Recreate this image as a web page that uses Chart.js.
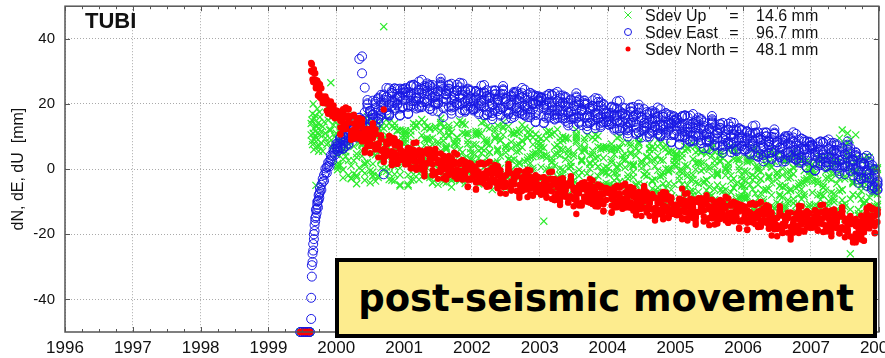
<!DOCTYPE html>
<html>
<head>
<meta charset="utf-8">
<script src="https://cdn.jsdelivr.net/npm/chart.js@4/dist/chart.umd.min.js"></script>
<style>
  html, body { margin: 0; padding: 0; background: #fff; }
  #wrap { position: relative; width: 885px; height: 358px; overflow: hidden; }
  #plot { position: absolute; left: 0; top: 0; }
  #banner {
    position: absolute; left: 335px; top: 258px; width: 542px; height: 80px;
    box-sizing: border-box; border: 4px solid #000; background: #fdec8e;
    display: flex; align-items: center; justify-content: center;
    font: bold 37px "DejaVu Sans", Verdana, sans-serif; color: #000; white-space: nowrap;
  }
</style>
</head>
<body>
<div id="wrap">
  <canvas id="plot" width="885" height="358"></canvas>
  <div id="banner">post-seismic movement</div>
</div>
<script>
// Station TUBI: coordinate offsets (mm) around the 1999 earthquake.
const station = 'TUBI';
const axisTitle = 'dN, dE, dU  [mm]';
const yearTicks = [1996, 1997, 1998, 1999, 2000, 2001, 2002, 2003, 2004, 2005, 2006, 2007, 2008];
const yTickValues = [-40, -20, 0, 20, 40];
const seriesNames = ['Sdev Up', 'Sdev East', 'Sdev North'];
const sdevMm = [14.6, 96.7, 48.1];

// Epochs in decimal years. Solutions A and B cover every epoch,
// C to F cover the epochs from 2000.02 on.
const epochs = [
  1999.47, 1999.50, 1999.53, 1999.56, 1999.59, 1999.61,
  1999.63, 1999.64, 1999.65, 1999.66, 1999.67, 1999.68, 1999.69, 1999.70, 1999.71, 1999.72, 1999.73, 1999.74, 1999.75, 1999.76, 1999.78, 1999.80, 1999.82, 1999.84, 1999.86, 1999.88, 1999.90, 1999.92, 1999.94, 1999.96, 1999.98, 2000.00,
  2000.02, 2000.06, 2000.10, 2000.14, 2000.18, 2000.22, 2000.26, 2000.30, 2000.34, 2000.38, 2000.42, 2000.46, 2000.50, 2000.54, 2000.58, 2000.62, 2000.66, 2000.70, 2000.74, 2000.78, 2000.82, 2000.86, 2000.90, 2000.94, 2000.98,
  2001.02, 2001.06, 2001.10, 2001.14, 2001.18, 2001.22, 2001.26, 2001.30, 2001.34, 2001.38, 2001.42, 2001.46, 2001.50, 2001.54, 2001.58, 2001.62, 2001.66, 2001.70, 2001.74, 2001.78, 2001.82, 2001.86, 2001.90, 2001.94, 2001.98,
  2002.02, 2002.06, 2002.10, 2002.14, 2002.18, 2002.22, 2002.26, 2002.30, 2002.34, 2002.38, 2002.42, 2002.46, 2002.50, 2002.54, 2002.58, 2002.62, 2002.66, 2002.70, 2002.74, 2002.78, 2002.82, 2002.86, 2002.90, 2002.94, 2002.98,
  2003.02, 2003.06, 2003.10, 2003.14, 2003.18, 2003.22, 2003.26, 2003.30, 2003.34, 2003.38, 2003.42, 2003.46, 2003.50, 2003.54, 2003.58, 2003.62, 2003.66, 2003.70, 2003.74, 2003.78, 2003.82, 2003.86, 2003.90, 2003.94, 2003.98,
  2004.02, 2004.06, 2004.10, 2004.14, 2004.18, 2004.22, 2004.26, 2004.30, 2004.34, 2004.38, 2004.42, 2004.46, 2004.50, 2004.54, 2004.58, 2004.62, 2004.66, 2004.70, 2004.74, 2004.78, 2004.82, 2004.86, 2004.90, 2004.94, 2004.98,
  2005.02, 2005.06, 2005.10, 2005.14, 2005.18, 2005.22, 2005.26, 2005.30, 2005.34, 2005.38, 2005.42, 2005.46, 2005.50, 2005.54, 2005.58, 2005.62, 2005.66, 2005.70, 2005.74, 2005.78, 2005.82, 2005.86, 2005.90, 2005.94, 2005.98,
  2006.02, 2006.06, 2006.10, 2006.14, 2006.18, 2006.22, 2006.26, 2006.30, 2006.34, 2006.38, 2006.42, 2006.46, 2006.50, 2006.54, 2006.58, 2006.62, 2006.66, 2006.70, 2006.74, 2006.78, 2006.82, 2006.86, 2006.90, 2006.94, 2006.98,
  2007.02, 2007.06, 2007.10, 2007.14, 2007.18, 2007.22, 2007.26, 2007.30, 2007.34, 2007.38, 2007.42, 2007.46, 2007.50, 2007.54, 2007.58, 2007.62, 2007.66, 2007.70, 2007.74, 2007.78, 2007.82, 2007.86, 2007.90, 2007.94, 2007.98
];
const denseStart = epochs.indexOf(2000.02);

// North component (mm)
const northA = [
  -50, -50, -50, -50, -50, -50,
  32.6, 29.9, 27.5, 29.9, 30.7, 26.6, 27.3, 24.8, 27.2, 26.0, 22.6, 26.4, 23.3, 22.0, 24.8, 22.3, 20.3, 22.3, 17.9, 20.1, 18.8, 20.8, 16.3, 18.5, 16.6, 17.6,
  17.5, 14.8, 12.2, 16.5, 18.5, 10.4, 12.2, 9.5, 13.7, 12.7, 5.9, 12.0, 8.3, 7.3, 12.2, 7.4, 5.6, 18.3, 4.1, 7.9, 4.8, 8.3, 2.8, 6.4, 4.3,
  2.4, 6.2, 4.0, 0.4, 5.2, 2.3, 5.6, 0.6, 1.8, 4.8, 1.5, -1.4, 2.7, 4.8, -0.1, -2.0, 1.0, -0.2, 2.2, -3.0, 1.6, -0.5, -2.1, 2.0, -2.9,
  -1.1, -3.8, 1.7, -2.5, -4.5, -0.6, -1.4, -3.8, 0.1, -5.8, -1.8, -3.0, -5.1, -0.2, -3.8, -2.5, -6.7, -0.5, -4.3, -5.7, -3.7, -7.8, -2.8, -4.9, -2.5,
  -7.9, -4.6, -3.8, -5.9, -3.0, -9.5, -5.0, -3.1, -8.3, -6.3, -4.3, -8.3, -6.5, -13.8, -5.2, -4.3, -8.6, -10.0, -7.4, -6.2, -11.4, -7.7, -5.7, -10.0, -7.2,
  -6.5, -9.2, -11.8, -7.5, -5.5, -10.8, -9.0, -11.7, -7.5, -8.5, -13.4, -7.3, -11.0, -12.0, -7.1, -10.6, -12.4, -8.7, -13.9, -10.1, -11.8, -8.3, -13.8, -10.2, -12.3,
  -13.2, -9.4, -6.0, -15.2, -10.4, -12.6, -9.3, -14.3, -13.1, -10.1, -12.7, -15.6, -11.5, -9.4, -14.3, -15.5, -12.5, -13.7, -11.3, -16.5, -11.2, -13.3, -14.9, -10.8, -15.7,
  -13.5, -16.2, -10.7, -14.9, -16.9, -13.0, -13.8, -16.2, -12.3, -18.2, -14.8, -16.0, -18.1, -13.2, -16.8, -15.3, -19.5, -13.3, -17.1, -18.5, -14.7, -18.8, -13.8, -15.9, -13.5,
  -18.0, -14.7, -13.9, -16.0, -13.1, -19.1, -14.6, -12.7, -17.9, -15.9, -13.8, -17.8, -16.0, -19.3, -14.7, -15.6, -22.5, -21.3, -18.7, -17.5, -18.1, -14.4, -12.4, -16.7, -13.9
];
const northB = [
  -50, -50, -50, -50, -50, -50,
  30.2, 32.2, 30.0, 26.7, 29.5, 27.6, 29.4, 25.2, 25.4, 27.1, 25.1, 22.5, 24.9, 26.0, 21.6, 20.3, 21.8, 20.2, 21.4, 17.0, 20.6, 18.6, 17.0, 19.5, 15.6, 18.0,
  17.6, 15.2, 17.3, 12.3, 16.4, 10.3, 11.7, 15.5, 9.3, 13.5, 8.7, 12.3, 7.4, 9.5, 10.7, 3.6, 9.5, 5.6, 8.0, 8.8, 2.1, 4.1, 8.3, 2.8, 5.5,
  4.7, 1.9, 6.2, 4.2, 0.5, 4.1, 2.9, 0.3, 1.7, 6.0, 3.2, -1.4, 1.9, 0.1, 4.1, 0.2, -1.8, 3.4, 1.5, -3.0, 1.6, -1.3, 0.8, 0.0, -3.3,
  -2.3, -0.2, -3.8, 1.7, -1.8, -1.5, -5.3, -0.1, -3.8, -2.0, -0.3, -5.2, -4.2, -0.5, -6.6, -3.3, -2.3, -6.5, -3.8, -5.6, -1.6, -3.6, -7.9, -5.3, -2.6,
  -7.5, -2.6, -6.7, -5.1, -3.0, -9.5, -4.3, -6.7, -5.5, -8.5, -8.5, -3.6, -5.7, -9.8, -6.9, -5.5, -8.5, -9.7, -4.7, -8.0, -6.7, -11.5, -7.9, -5.7, -9.5,
  -6.4, -8.8, -6.7, -11.7, -7.6, -10.9, -9.5, -5.7, -11.9, -7.7, -10.6, -7.0, -11.9, -9.8, -8.6, -14.4, -8.5, -12.4, -10.0, -9.2, -14.5, -12.5, -8.3, -13.8, -11.1,
  -10.9, -13.7, -9.4, -11.4, -15.1, -10.8, -12.0, -14.6, -13.2, -8.9, -11.0, -15.6, -12.3, -14.1, -10.1, -13.3, -15.3, -10.1, -12.0, -16.5, -11.2, -14.1, -12.0, -12.8, -16.1,
  -14.7, -12.6, -16.2, -10.7, -14.2, -13.9, -17.7, -12.5, -16.2, -14.4, -13.3, -18.2, -17.2, -13.5, -19.6, -16.1, -15.1, -19.3, -16.6, -18.4, -12.6, -14.6, -18.9, -16.3, -13.6,
  -17.6, -12.7, -16.8, -15.2, -13.1, -19.1, -13.9, -16.3, -15.1, -18.1, -18.0, -13.1, -15.2, -19.3, -16.4, -16.8, -19.8, -21.0, -16.0, -19.3, -13.4, -18.2, -14.6, -12.4, -16.2
];
const northC = [
  16.8, 12.8, 15.6, 18.6, 14.2, 9.0, 14.0, 12.8, 10.3, 14.8, 8.9, 7.0, 10.6, 11.8, 6.0, 7.6, 9.1, 6.1, 4.3, 10.2, 3.6, 5.1, 7.2, 3.0, 4.4,
  1.6, 4.7, 0.2, 5.9, 4.1, 4.3, 1.3, -0.3, 5.7, 1.9, 3.3, 4.8, -0.8, 1.2, 2.3, -2.3, 1.8, 3.1, -1.3, -0.1, 2.2, -3.2, -1.8, -0.2, 1.7,
  -0.1, -4.1, -1.3, 1.7, -2.7, -5.4, -0.4, -1.6, -4.1, 0.4, -3.6, -5.5, -1.9, -0.7, -6.5, -3.4, -1.9, -4.9, -6.7, -0.8, -6.2, -4.7, -2.6, -6.8, -5.4,
  -7.4, -4.3, -8.8, -3.1, -4.9, -4.5, -7.5, -9.1, -3.1, -6.9, -5.1, -3.6, -9.2, -7.2, -6.1, -10.3, -6.2, -4.9, -9.3, -8.1, -5.3, -10.7, -9.3, -7.7, -5.8,
  -7.2, -11.2, -8.4, -5.4, -9.8, -12.2, -7.2, -8.4, -10.9, -6.4, -10.4, -12.3, -8.7, -7.5, -13.3, -10.4, -8.9, -11.9, -13.7, -7.8, -13.0, -11.5, -9.4, -13.6, -12.2,
  -14.0, -10.9, -15.4, -9.7, -11.5, -10.6, -13.6, -15.2, -9.2, -13.0, -10.9, -9.4, -15.0, -13.0, -11.9, -15.8, -11.7, -10.4, -14.8, -13.6, -10.6, -16.0, -14.6, -13.0, -11.1,
  -12.5, -16.5, -13.7, -10.7, -15.1, -17.8, -12.8, -14.0, -16.5, -12.0, -16.6, -18.5, -14.9, -13.7, -19.5, -16.2, -14.7, -17.7, -19.5, -13.6, -17.2, -15.7, -13.6, -17.8, -16.4,
  -17.5, -14.4, -18.9, -13.2, -15.0, -14.1, -17.1, -18.7, -12.7, -16.5, -14.6, -13.1, -18.7, -16.7, -15.6, -21.6, -17.5, -16.2, -20.6, -19.4, -12.0, -17.4, -16.0, -14.4, -12.5
];
const northD = [
  17.8, 15.9, 14.3, 12.9, 18.3, 11.6, 10.4, 14.8, 13.5, 9.4, 10.2, 9.1, 7.1, 12.7, 11.2, 6.3, 10.1, 4.1, 5.7, 8.7, 5.5, 7.3, 1.6, 6.1, 3.0,
  3.0, 1.6, 5.8, 3.7, 2.2, 5.8, -0.1, 1.7, 4.7, 3.2, -1.9, 3.9, 2.7, -0.9, 1.0, 3.1, -1.4, 1.1, 2.3, -2.7, -1.9, 2.5, -0.5, -3.3, 0.7,
  0.9, -1.0, -2.6, -4.0, 1.4, -2.8, -4.0, 0.4, -0.9, -5.0, -2.3, -3.4, -5.4, 0.2, -1.3, -4.7, -0.9, -6.9, -5.3, -2.3, -4.3, -2.5, -8.2, -3.7, -6.8,
  -6.0, -7.4, -3.2, -5.3, -6.8, -3.0, -8.9, -7.1, -4.1, -5.6, -10.3, -4.5, -5.7, -9.3, -7.4, -4.9, -9.4, -6.9, -5.7, -10.7, -9.4, -5.0, -8.0, -10.8, -6.8,
  -6.2, -8.1, -9.7, -11.1, -5.7, -9.6, -10.8, -6.4, -7.7, -11.8, -9.1, -10.2, -12.2, -6.6, -8.1, -11.7, -7.9, -13.9, -12.3, -9.3, -11.1, -9.3, -15.0, -10.5, -13.6,
  -12.6, -14.0, -9.8, -11.9, -13.4, -9.1, -15.0, -13.2, -10.2, -11.7, -16.1, -10.3, -11.5, -15.1, -13.2, -10.4, -14.9, -12.4, -11.2, -16.2, -14.7, -10.3, -13.3, -16.1, -12.1,
  -11.5, -13.4, -15.0, -16.4, -11.0, -15.2, -16.4, -12.0, -13.3, -17.4, -15.3, -16.4, -18.4, -12.8, -14.3, -17.5, -13.7, -19.7, -18.1, -15.1, -15.3, -13.5, -19.2, -14.7, -17.8,
  -16.1, -17.5, -13.3, -15.4, -16.9, -12.6, -18.5, -16.7, -13.7, -15.2, -19.8, -14.0, -15.2, -18.8, -16.9, -16.2, -20.7, -18.2, -17.0, -22.0, -16.1, -11.7, -14.7, -17.5, -13.5
];
const northE = [
  16.7, 10.6, 18.4, 13.4, 15.6, 16.2, 9.4, 11.2, 15.7, 8.5, 11.4, 8.9, 4.9, 14.1, 7.6, 7.6, 10.4, 3.1, 8.5, 4.7, 9.6, 3.8, 1.9, 7.7, 5.1,
  1.4, 6.5, 3.0, 8.0, -0.2, 4.2, 3.1, -2.2, 4.9, 3.5, -1.7, 5.4, 2.6, -0.4, -2.8, 3.6, -0.7, 2.2, 5.0, -2.6, -1.0, 2.8, 0.0, -5.3, 1.6,
  -0.2, -6.3, 1.5, -3.5, -1.3, 1.8, -5.0, -3.2, 1.3, -5.9, -1.1, -3.6, -7.6, 1.6, -4.9, -3.4, -0.6, -7.9, -2.5, -6.3, -0.2, -6.0, -7.9, -2.1, -4.7,
  -7.6, -2.5, -6.0, -1.0, -9.2, -4.6, -5.7, -11.0, -3.9, -5.3, -10.1, -3.0, -5.8, -8.8, -11.2, -4.4, -8.7, -5.8, -3.0, -10.6, -8.5, -4.7, -7.5, -12.8, -5.9,
  -7.3, -13.4, -5.6, -10.6, -8.4, -5.0, -11.8, -10.0, -5.5, -12.7, -7.9, -10.4, -14.4, -5.2, -11.7, -10.4, -7.6, -14.9, -9.5, -13.3, -7.0, -12.8, -14.7, -8.9, -11.5,
  -14.2, -9.1, -12.6, -7.6, -15.8, -10.7, -11.8, -17.1, -10.0, -11.4, -15.9, -8.8, -11.6, -14.6, -17.0, -9.9, -14.2, -11.3, -8.5, -16.1, -13.8, -10.0, -12.8, -18.1, -11.2,
  -12.6, -18.7, -10.9, -15.9, -13.7, -10.6, -17.4, -15.6, -11.1, -18.3, -14.1, -16.6, -20.6, -11.4, -17.9, -16.2, -13.4, -20.7, -15.3, -19.1, -11.2, -17.0, -18.9, -13.1, -15.7,
  -17.7, -12.6, -16.1, -11.1, -19.3, -14.2, -15.3, -20.6, -13.5, -14.9, -19.6, -12.5, -15.3, -18.3, -20.7, -15.7, -20.0, -17.1, -14.3, -21.9, -15.2, -11.4, -14.2, -19.5, -12.6
];
const northF = [
  17.7, 10.8, 16.1, 18.9, 15.1, 9.1, 16.7, 13.9, 11.0, 15.3, 5.1, 7.5, 10.5, 13.3, 6.2, 7.9, 9.3, 2.2, 7.5, 8.6, 1.2, 9.4, 4.4, 7.9, 2.8,
  3.7, 6.3, 0.5, 2.4, 8.2, 0.3, 4.1, -1.3, 6.0, 3.2, -0.3, 6.2, -3.0, 1.0, 3.5, -3.2, 4.0, -0.5, -2.3, 4.5, -0.5, -2.7, 2.3, -5.5, 0.6,
  0.8, -6.1, -0.8, 2.0, -1.8, -5.3, 2.3, -0.5, -3.4, 0.9, -7.4, -5.0, -2.0, 0.8, -6.3, -3.1, -1.7, -8.8, -3.5, -2.4, -8.6, -0.4, -5.4, -1.9, -7.0,
  -5.3, -2.7, -8.5, -6.6, -0.8, -8.5, -4.7, -10.1, -2.8, -5.6, -8.7, -2.2, -11.4, -7.4, -4.9, -11.2, -4.0, -8.5, -10.3, -3.5, -8.0, -10.2, -5.2, -13.0, -6.9,
  -6.3, -13.2, -7.9, -5.1, -8.9, -12.1, -4.5, -7.3, -10.2, -5.9, -14.2, -11.8, -8.8, -6.0, -13.1, -10.1, -8.7, -15.8, -10.5, -9.4, -15.4, -7.2, -12.2, -8.7, -13.8,
  -11.9, -9.3, -15.1, -13.2, -7.4, -14.6, -10.8, -16.2, -8.9, -11.7, -14.5, -8.0, -17.2, -13.2, -10.7, -16.7, -9.5, -14.0, -15.8, -9.0, -13.3, -15.5, -10.5, -18.3, -12.2,
  -11.6, -18.5, -13.2, -10.4, -14.2, -17.7, -10.1, -12.9, -15.8, -11.5, -20.4, -18.0, -15.0, -12.2, -19.3, -15.9, -14.5, -21.6, -16.3, -15.2, -19.6, -11.4, -16.4, -12.9, -18.0,
  -15.4, -12.8, -18.6, -16.7, -10.9, -18.1, -14.3, -19.7, -12.4, -15.2, -18.2, -11.7, -20.9, -16.9, -14.4, -22.5, -15.3, -19.8, -21.6, -14.8, -14.7, -16.9, -11.9, -19.7, -13.6
];

// East component (mm)
const eastA = [
  -50, -50, -50, -50, -50, -50,
  -46.0, -33.0, -28.5, -25.0, -21.5, -19.0, -16.0, -14.5, -13.5, -11.0, -11.8, -9.5, -8.8, -7.0, -6.4, -4.0, -3.6, -1.0, -1.2, 1.0, 0.8, 3.0, 2.6, 5.0, 4.4, 6.8,
  6.2, 9.6, 8.8, 7.1, 11.1, 11.0, 14.1, 11.5, 13.0, 34.6, 15.3, 12.7, 17.9, 21.0, 16.0, 15.6, 19.6, -1.6, 22.0, 16.4, 23.4, 21.2, 19.7, 24.7, 19.3,
  22.6, 19.5, 25.7, 20.9, 18.6, 24.3, 23.4, 20.7, 25.2, 18.4, 24.1, 22.7, 20.4, 25.9, 21.8, 24.0, 19.2, 26.2, 21.8, 20.3, 22.7, 18.1, 23.8, 21.4, 24.2,
  18.0, 21.7, 22.7, 20.3, 23.5, 16.8, 21.9, 24.1, 18.1, 20.3, 23.2, 18.8, 20.8, 17.0, 22.3, 23.7, 18.8, 17.2, 20.2, 21.5, 16.0, 20.2, 22.4, 17.5, 20.8,
  21.7, 18.6, 15.7, 20.6, 22.8, 16.7, 18.8, 15.8, 20.5, 19.4, 14.2, 21.1, 16.8, 15.7, 21.3, 17.8, 15.8, 20.0, 14.1, 18.5, 16.6, 20.6, 14.2, 18.4, 16.0,
  14.7, 19.0, 16.5, 12.4, 17.8, 14.9, 18.7, 13.0, 14.2, 17.7, 14.6, 11.3, 15.9, 18.4, 12.8, 11.1, 14.6, 13.2, 16.0, 10.0, 16.1, 13.6, 11.8, 16.5, 10.9,
  13.2, 10.1, 16.3, 11.5, 9.2, 13.8, 12.9, 10.2, 14.7, 7.9, 12.6, 11.2, 8.9, 14.4, 10.3, 12.0, 7.2, 14.2, 9.8, 8.3, 10.6, 6.0, 11.7, 9.3, 12.1,
  5.6, 9.3, 10.3, 7.9, 11.1, 3.9, 9.0, 11.2, 5.2, 7.4, 9.9, 5.5, 7.5, 3.7, 9.0, 10.1, 5.2, 3.6, 6.6, 7.9, 2.0, 6.2, 8.4, 3.5, 6.8,
  7.1, 4.0, 1.1, 6.0, 8.2, 2.1, 4.2, 1.2, 5.9, 4.8, -0.6, 6.3, 2.0, 0.9, 6.5, 2.4, -0.1, 3.6, -3.0, 0.8, -1.1, 2.2, -5.0, -1.6, -4.8
];
const eastB = [
  -50, -50, -50, -50, -50, -50,
  -39.5, -29.5, -26.0, -23.0, -20.0, -17.2, -15.0, -12.5, -12.2, -10.0, -9.8, -8.0, -7.6, -5.8, -4.8, -3.0, -1.8, 0.2, 0.6, 2.0, 2.4, 4.2, 4.0, 6.0, 6.2, 7.8,
  7.8, 6.6, 10.2, 9.7, 7.9, 12.2, 12.2, 11.2, 33.8, 29.4, 25.0, 12.7, 17.1, 15.7, 20.7, 18.1, 16.4, 22.9, 21.2, 16.5, 23.3, 20.4, 23.1, 22.4, 18.9,
  21.2, 23.6, 19.4, 25.8, 21.8, 23.4, 19.0, 24.9, 20.7, 22.7, 25.8, 20.2, 21.3, 25.6, 16.0, 23.0, 24.1, 19.4, 22.4, 20.3, 25.1, 22.9, 18.0, 20.9, 24.0,
  18.4, 24.0, 19.3, 21.1, 23.6, 16.7, 22.7, 19.9, 21.3, 17.8, 18.5, 24.1, 21.6, 17.0, 20.3, 22.3, 18.8, 17.6, 23.3, 19.5, 21.3, 15.9, 20.0, 22.5, 18.2,
  21.9, 19.1, 21.5, 15.8, 20.4, 16.7, 18.2, 22.6, 15.6, 20.4, 17.3, 21.4, 15.9, 18.2, 19.6, 13.5, 20.3, 15.8, 18.5, 19.4, 13.4, 15.7, 20.5, 14.3, 17.4,
  17.3, 14.0, 18.9, 16.7, 12.5, 16.9, 15.6, 12.6, 14.2, 19.1, 16.6, 11.3, 15.1, 13.1, 17.5, 13.6, 11.4, 17.4, 15.2, 10.1, 16.0, 12.8, 15.2, 14.2, 10.5,
  11.8, 14.2, 10.0, 16.4, 12.4, 12.9, 8.5, 14.4, 10.2, 12.2, 14.3, 8.7, 9.8, 14.1, 7.2, 11.0, 12.1, 7.4, 10.4, 8.3, 13.0, 10.8, 5.9, 8.8, 11.9,
  6.0, 11.6, 6.9, 8.7, 11.2, 3.8, 9.8, 7.0, 8.4, 4.9, 5.2, 10.8, 8.3, 3.7, 7.0, 8.7, 5.2, 4.0, 9.7, 5.9, 7.3, 1.9, 6.0, 8.5, 4.2,
  7.3, 4.5, 6.9, 1.2, 5.8, 2.1, 3.6, 8.0, 1.0, 5.8, 2.5, 6.6, 1.1, 3.4, 4.8, -1.9, 4.4, -0.6, 1.4, 1.7, -4.3, -2.7, 1.3, -5.7, -3.4
];
const eastC = [
  5.6, 8.5, 6.2, 10.9, 10.3, 12.4, 11.2, 10.8, 15.7, 13.9, 17.4, 19.8, 14.0, 16.8, 18.8, 15.3, 20.5, 22.5, 18.0, 19.8, 24.0, 18.1, 20.1, 22.1, 24.6,
  23.8, 19.1, 22.3, 25.8, 20.8, 18.9, 24.6, 23.2, 20.3, 25.5, 22.0, 19.8, 23.9, 25.3, 18.7, 22.9, 24.6, 21.2, 19.1, 25.9, 19.9, 21.6, 24.1, 19.3, 20.8,
  18.5, 22.0, 16.9, 23.4, 21.3, 22.5, 19.1, 17.2, 24.0, 19.7, 22.4, 24.1, 17.7, 19.9, 21.3, 16.8, 21.5, 23.0, 18.0, 19.4, 22.9, 16.7, 18.4, 20.1, 22.4,
  21.0, 16.3, 19.5, 23.0, 18.0, 15.2, 20.9, 19.5, 16.6, 21.8, 17.5, 15.3, 19.4, 20.8, 14.2, 18.1, 19.8, 16.4, 14.3, 21.1, 15.2, 16.9, 19.4, 14.6, 16.1,
  13.7, 17.2, 12.1, 18.6, 16.5, 17.2, 13.8, 11.9, 18.7, 14.4, 16.7, 18.4, 12.0, 14.2, 15.6, 10.8, 15.5, 17.0, 12.0, 13.4, 16.7, 10.5, 12.2, 13.9, 16.2,
  14.4, 9.7, 12.9, 16.4, 11.4, 8.4, 14.1, 12.7, 9.8, 15.0, 10.5, 8.3, 12.4, 13.8, 7.2, 10.9, 12.6, 9.2, 7.1, 13.9, 7.8, 9.5, 12.0, 7.2, 8.7,
  6.1, 9.6, 4.5, 11.0, 8.9, 9.6, 6.2, 4.3, 11.1, 6.8, 9.1, 10.8, 4.4, 6.6, 8.0, 3.2, 7.9, 9.4, 4.4, 5.8, 8.9, 2.7, 4.4, 6.1, 8.4,
  6.4, 1.7, 4.9, 8.4, 3.4, 0.6, 6.3, 4.9, 2.0, 7.2, 2.7, 0.5, 4.6, 6.0, -0.6, 2.7, 3.9, 0.0, -2.8, 3.4, -2.5, -1.5, 0.2, -5.4, -4.7
];
const eastD = [
  6.6, 6.5, 10.1, 9.4, 9.0, 13.4, 10.1, 12.2, 15.0, 14.8, 11.4, 18.7, 17.9, 14.4, 17.2, 21.5, 16.8, 20.2, 22.1, 16.8, 19.4, 24.7, 21.5, 18.6, 23.5,
  24.9, 22.6, 20.9, 19.2, 25.4, 21.9, 20.5, 25.5, 24.0, 19.3, 23.6, 22.2, 20.0, 26.4, 24.7, 21.4, 25.7, 18.9, 20.8, 24.2, 22.0, 24.1, 17.6, 22.7, 19.2,
  20.1, 18.6, 23.4, 20.9, 19.2, 24.2, 17.4, 19.5, 22.9, 21.2, 16.4, 23.0, 21.6, 17.5, 19.7, 23.0, 17.8, 20.7, 22.1, 16.4, 18.3, 23.3, 19.8, 16.6, 21.3,
  22.1, 19.8, 18.1, 16.4, 22.6, 18.2, 16.8, 21.8, 20.3, 15.6, 19.1, 17.7, 15.5, 21.9, 20.2, 16.6, 20.9, 14.1, 16.0, 19.4, 17.3, 19.4, 12.9, 18.0, 14.5,
  15.3, 13.8, 18.6, 16.1, 14.4, 18.9, 12.1, 14.2, 17.6, 15.9, 10.7, 17.3, 15.9, 11.8, 14.0, 17.0, 11.8, 14.7, 16.1, 10.4, 12.1, 17.1, 13.6, 10.4, 15.1,
  15.5, 13.2, 11.5, 9.8, 16.0, 11.4, 10.0, 15.0, 13.5, 8.8, 12.1, 10.7, 8.5, 14.9, 13.2, 9.4, 13.7, 6.9, 8.8, 12.2, 9.9, 12.0, 5.5, 10.6, 7.1,
  7.7, 6.2, 11.0, 8.5, 6.8, 11.3, 4.5, 6.6, 10.0, 8.3, 3.1, 9.7, 8.3, 4.2, 6.4, 9.4, 4.2, 7.1, 8.5, 2.8, 4.3, 9.3, 5.8, 2.6, 7.3,
  7.5, 5.2, 3.5, 1.8, 8.0, 3.6, 2.2, 7.2, 5.7, 1.0, 4.3, 2.9, 0.7, 7.1, 5.4, 1.2, 5.0, -2.3, -1.1, 1.7, -0.4, 1.0, -6.3, -2.0, -6.3
];
const eastE = [
  5.6, 9.7, 8.1, 12.2, 7.5, 12.3, 12.3, 9.7, 15.1, 15.0, 11.8, 20.2, 17.8, 15.2, 13.1, 21.9, 17.8, 21.3, 24.9, 17.1, 20.4, 24.8, 22.0, 16.6, 24.3,
  23.5, 16.9, 25.4, 19.9, 22.3, 26.9, 19.4, 21.4, 26.3, 18.5, 24.8, 22.1, 17.7, 27.8, 20.7, 22.9, 25.9, 18.0, 23.8, 19.7, 26.5, 20.2, 18.1, 24.4, 21.6,
  18.4, 24.0, 20.2, 25.6, 16.6, 22.3, 21.0, 15.3, 23.0, 21.5, 16.8, 24.5, 21.5, 18.3, 15.6, 23.4, 18.8, 21.8, 24.9, 16.7, 19.3, 23.4, 20.3, 14.6, 22.1,
  20.7, 14.1, 22.6, 17.1, 19.5, 23.2, 15.7, 17.7, 22.6, 14.8, 20.3, 17.6, 13.2, 23.3, 16.2, 18.1, 21.1, 13.2, 19.0, 14.9, 21.8, 15.5, 13.4, 19.7, 16.9,
  13.6, 19.2, 15.4, 20.8, 11.8, 17.0, 15.7, 10.0, 17.7, 16.2, 11.1, 18.8, 15.8, 12.6, 9.9, 17.4, 12.8, 15.8, 18.9, 10.7, 13.1, 17.2, 14.1, 8.4, 15.9,
  14.1, 7.5, 16.0, 10.5, 12.9, 16.4, 8.9, 10.9, 15.8, 8.0, 13.3, 10.6, 6.2, 16.3, 9.2, 10.9, 13.9, 6.0, 11.8, 7.7, 14.4, 8.1, 6.0, 12.3, 9.5,
  6.0, 11.6, 7.8, 13.2, 4.2, 9.4, 8.1, 2.4, 10.1, 8.6, 3.5, 11.2, 8.2, 5.0, 2.3, 9.8, 5.2, 8.2, 11.3, 3.1, 5.3, 9.4, 6.3, 0.6, 8.1,
  6.1, -0.5, 8.0, 2.5, 4.9, 8.6, 1.1, 3.1, 8.0, 0.2, 5.5, 2.8, -1.6, 8.5, 1.4, 2.7, 5.2, -3.2, 1.9, -2.8, 4.1, -2.9, -5.8, -0.3, -3.9
];
const eastF = [
  7.1, 9.5, 6.5, 8.5, 13.0, 9.7, 13.0, 10.3, 15.8, 14.8, 13.4, 21.2, 11.7, 16.7, 20.0, 14.5, 22.8, 18.4, 16.9, 24.8, 20.9, 18.8, 24.6, 16.4, 23.2,
  24.6, 17.1, 22.8, 25.9, 21.8, 19.2, 27.4, 24.3, 21.3, 25.9, 17.9, 20.6, 23.8, 26.8, 19.1, 23.2, 24.7, 17.0, 22.7, 24.0, 17.3, 26.3, 20.9, 24.7, 19.1,
  20.9, 23.7, 17.4, 19.5, 25.8, 18.0, 22.1, 16.3, 24.2, 21.2, 18.4, 25.5, 15.4, 19.8, 22.5, 16.0, 23.8, 18.9, 16.9, 24.4, 19.8, 17.4, 22.9, 14.4, 21.0,
  21.8, 14.3, 20.0, 23.1, 19.0, 15.5, 23.7, 20.6, 17.6, 22.2, 13.4, 16.1, 19.3, 22.3, 14.6, 18.4, 19.9, 12.2, 17.9, 19.2, 12.6, 21.6, 16.2, 20.0, 14.4,
  16.1, 18.9, 12.6, 14.7, 21.0, 12.7, 16.8, 11.0, 18.9, 15.9, 12.7, 19.8, 9.7, 14.1, 16.8, 10.0, 17.8, 12.9, 10.9, 18.4, 13.6, 11.2, 16.7, 8.2, 14.8,
  15.2, 7.7, 13.4, 16.5, 12.4, 8.7, 16.9, 13.8, 10.8, 15.4, 6.4, 9.1, 12.3, 15.3, 7.6, 11.2, 12.7, 5.0, 10.7, 12.0, 5.2, 14.2, 8.8, 12.6, 7.0,
  8.5, 11.3, 5.0, 7.1, 13.4, 5.1, 9.2, 3.4, 11.3, 8.3, 5.1, 12.2, 2.1, 6.5, 9.2, 2.4, 10.2, 5.3, 3.3, 10.8, 5.8, 3.4, 8.9, 0.4, 7.0,
  7.2, -0.3, 5.4, 8.5, 4.4, 0.9, 9.1, 6.0, 3.0, 7.6, -1.4, 1.3, 4.5, 7.5, -0.2, 3.0, 4.0, -4.2, 0.8, 1.5, -5.1, 3.2, -3.0, 0.0, -6.4
];

// Up component (mm)
const upA = [
  -50, -50, -50, -50, -50, -50,
  14.0, 8.5, 17.0, 11.0, 6.0, 15.5, 10.0, -5.0, 13.0, 18.5, 9.0, 12.5, 7.0, 16.0, 11.5, 5.5, 14.5, 9.5, 19.0, 8.0, 12.0, 26.5, 6.5, 13.5, 10.0, 4.5,
  -0.2, 8.6, 11.0, 5.3, 13.0, -2.8, 9.3, 14.5, 0.4, 5.6, 12.7, 2.1, 6.8, -2.2, 10.4, 14.2, 2.5, 43.7, 5.9, 9.1, -3.4, 6.7, 11.9, 0.3, 8.0,
  10.9, 3.6, -3.4, 8.2, 13.6, 0.5, 5.5, -1.7, 9.6, 6.8, -4.1, 12.3, 2.2, -0.5, 12.9, 6.0, 1.3, 11.3, -2.8, 7.6, 4.3, 13.8, -1.3, 8.7, 2.8,
  1.5, 11.6, 5.7, -4.0, 8.9, 3.4, 12.5, -1.1, 1.9, 10.2, 4.0, -3.7, 7.2, 13.1, -0.3, -3.0, 5.4, 2.1, 8.5, -5.6, 9.6, 3.8, -0.5, 10.7, -2.8,
  4.0, -16.0, 11.4, 0.0, -5.4, 6.8, 4.7, -1.9, 8.8, -7.2, 5.2, 2.1, -3.5, 9.6, -0.2, 5.2, -6.2, 10.4, 0.1, -3.6, 3.4, -7.7, 6.0, 0.3, 6.9,
  -6.7, 2.1, 4.5, -1.2, 6.5, -9.3, 2.8, 8.0, -6.1, -0.9, 6.2, -4.4, 0.3, -8.7, 3.9, 7.9, -3.8, -7.5, -0.4, 2.8, -10.0, 0.1, 5.3, -6.3, 1.4,
  3.9, -3.4, -10.4, 1.2, 6.6, -6.8, -1.8, -9.0, 2.3, -0.5, -11.7, 4.7, -5.4, -8.1, 5.3, -1.9, -6.6, 3.4, -10.7, -0.3, -3.7, 5.8, -9.3, 0.7, -5.2,
  -6.7, 3.4, -2.5, -12.2, 0.7, -4.8, 4.3, -9.3, -6.3, 2.0, -4.2, -11.9, -1.0, 4.9, -8.5, -11.2, -2.8, -6.1, 0.3, -13.8, 1.6, -4.2, -8.5, 2.7, -10.8,
  -3.8, -11.1, 3.6, -7.8, -13.2, -0.6, -2.7, -9.3, 1.4, -14.6, 9.5, 12.0, -10.6, 8.0, -26.0, -1.6, 10.5, 3.6, -6.7, -10.4, -3.1, -14.2, -0.5, -6.2, 0.4
];
const upB = [
  -50, -50, -50, -50, -50, -50,
  10.5, 15.0, 7.5, 20.0, 12.5, 9.0, 16.5, 13.5, 7.0, 11.0, 14.0, 5.5, 17.5, 10.5, 8.0, 13.0, 21.0, 11.0, 7.5, 15.0, 9.5, 12.0, 16.0, 8.0, 14.5, 11.0,
  0.7, 14.2, 3.0, 7.3, 13.1, -3.0, 11.1, 4.7, 8.0, -0.4, 1.4, 14.8, 8.9, -2.0, 5.7, 11.0, 2.7, -0.3, 13.3, 4.2, 9.3, -3.6, 6.1, 12.0, 1.9,
  11.4, 4.8, 10.5, -3.2, 7.9, 0.4, 4.1, 14.4, -2.2, 9.2, 3.3, 13.1, 0.0, 5.6, 8.7, -4.2, 11.8, 1.1, 7.7, 9.8, -3.2, 2.2, 13.6, -1.1, 6.2,
  7.6, -0.1, 11.5, 6.3, -3.8, 8.3, 5.1, -2.0, 1.7, 13.4, 8.7, -3.9, 5.1, 0.4, 11.0, 3.0, -2.2, 11.9, 6.7, -5.4, 9.5, 1.8, 7.5, 5.1, -3.7,
  0.6, 6.5, -3.5, 11.6, 2.1, 4.6, -5.8, 8.3, -1.7, 3.0, 9.4, -4.0, -1.3, 8.8, -7.6, 2.8, 5.6, -5.7, 1.5, -3.5, 9.1, 3.7, -7.9, -0.9, 6.4,
  -5.8, 7.7, -3.5, 0.8, 6.6, -9.5, 4.6, -1.8, 1.5, -6.9, -5.1, 8.3, 2.4, -8.5, -0.8, 4.7, -3.6, -6.6, 7.0, -2.1, 2.7, -10.2, -0.5, 5.4, -4.7,
  4.4, -2.2, 3.5, -10.2, 0.9, -6.9, -3.2, 7.1, -9.5, 1.9, -4.3, 5.5, -7.6, -2.0, 1.1, -12.1, 3.9, -6.8, -0.2, 1.9, -11.2, -5.8, 5.6, -9.1, -1.8,
  -0.6, -8.3, 3.3, -1.9, -12.0, 0.1, -3.1, -10.2, -6.5, 5.2, 0.5, -12.1, -3.1, -7.8, 2.8, -5.2, -10.4, 3.7, -1.5, -13.6, 1.5, -6.2, -0.5, -2.9, -11.7,
  -7.2, -1.3, -11.3, 3.8, -5.7, -2.8, -13.2, 0.9, -9.1, -4.4, 2.3, -11.1, 7.5, 11.0, 9.0, -4.0, -1.2, -12.5, -5.3, -10.3, 2.6, -2.8, -14.4, -7.4, -0.1
];
const upC = [
  4.8, 1.2, 12.6, 6.8, 2.6, 14.7, -1.4, 3.6, 11.6, 7.6, -3.4, 12.2, 8.9, -0.9, 4.4, 12.7, 0.3, 7.2, 10.4, -3.2, 2.1, 14.0, 5.8, -1.8, 9.2,
  11.8, 6.5, 2.3, -1.6, 13.1, 4.0, 0.6, 12.5, 9.0, -2.0, 7.6, 4.3, -1.0, 14.3, 10.1, 3.0, 13.4, -2.9, 1.6, 9.7, 6.0, 11.1, -4.4, 7.7, -0.7,
  2.9, -0.7, 10.7, 4.9, 0.7, 12.9, -3.2, 1.8, 9.8, 5.8, -5.1, 10.5, 7.2, -2.6, 2.7, 11.1, -1.3, 5.6, 8.8, -4.8, 0.1, 12.0, 3.8, -3.8, 7.2,
  9.4, 4.1, -0.1, -4.0, 10.7, 1.0, -2.4, 9.5, 6.0, -5.0, 4.1, 0.8, -4.5, 10.8, 6.6, -1.0, 9.4, -6.9, -2.4, 5.7, 1.7, 6.8, -8.7, 3.4, -5.0,
  -1.7, -5.3, 6.1, 0.3, -3.9, 8.2, -7.9, -2.9, 5.1, 1.1, -9.9, 5.7, 2.4, -7.4, -2.1, 6.4, -6.0, 0.9, 4.1, -9.5, -4.5, 7.4, -0.8, -8.4, 2.6,
  4.8, -0.5, -4.7, -8.6, 6.1, -3.3, -6.7, 5.2, 1.7, -9.3, 0.0, -3.3, -8.6, 6.7, 2.5, -4.9, 5.5, -10.8, -6.3, 1.8, -2.0, 3.1, -12.4, -0.3, -8.7,
  -5.3, -8.9, 2.5, -3.3, -7.5, 4.7, -11.4, -6.4, 1.6, -2.4, -13.3, 2.3, -1.0, -10.8, -5.5, 2.9, -9.5, -2.6, 0.6, -13.0, -7.9, 4.0, -4.2, -11.8, -0.8,
  1.6, -3.7, -7.9, -11.8, 2.9, -6.4, -9.8, 2.1, -1.4, -12.4, -3.0, -6.3, -11.6, 3.7, -0.5, -7.8, 2.6, -13.7, -9.2, -1.1, -4.8, 0.3, -15.2, -3.1, -11.5
];
const upD = [
  1.0, 9.4, -2.7, 12.8, 7.7, 10.7, 2.6, -1.9, 14.4, 4.0, 10.6, 14.8, -0.5, 4.8, 8.1, -2.0, 9.0, 12.5, 0.6, 4.0, 13.1, -1.6, 2.3, 6.5, 11.8,
  9.2, -1.8, 5.8, 14.0, 2.1, -3.2, 10.4, 7.2, 0.3, 12.7, 3.9, -1.4, 8.4, 11.7, -3.9, 6.6, 10.6, 2.6, -2.4, 13.7, 0.9, 5.1, 10.9, -0.5, 3.1,
  -0.9, 7.5, -4.6, 10.9, 5.8, 8.9, 0.8, -3.7, 12.6, 2.2, 8.9, 13.1, -2.2, 3.1, 6.4, -3.6, 7.4, 10.9, -1.0, 2.4, 11.1, -3.6, 0.3, 4.5, 9.8,
  6.8, -4.2, 3.4, 11.6, -0.3, -6.2, 7.4, 4.2, -2.7, 9.7, 0.4, -4.9, 4.9, 8.2, -7.4, 2.6, 6.6, -1.4, -6.4, 9.7, -3.4, 0.8, 6.6, -4.8, -1.2,
  -5.5, 2.9, -9.2, 6.3, 1.2, 4.2, -3.9, -8.4, 7.9, -2.5, 4.1, 8.3, -7.0, -1.7, 1.6, -8.3, 2.7, 6.2, -5.7, -2.3, 6.5, -8.2, -4.3, -0.1, 5.2,
  2.2, -8.8, -1.2, 7.0, -4.9, -10.5, 3.1, -0.1, -7.0, 5.4, -3.7, -9.0, 0.8, 4.1, -11.5, -1.3, 2.7, -5.3, -10.3, 5.8, -7.1, -2.9, 2.9, -8.5, -4.9,
  -9.1, -0.7, -12.8, 2.7, -2.4, 0.7, -7.4, -11.9, 4.4, -6.0, 0.7, 4.9, -10.4, -5.1, -1.8, -11.8, -0.8, 2.7, -9.2, -5.8, 3.1, -11.6, -7.7, -3.5, 1.8,
  -1.0, -12.0, -4.4, 3.8, -8.1, -13.6, 0.0, -3.2, -10.1, 2.3, -6.7, -12.0, -2.2, 1.1, -14.5, -4.2, -0.2, -8.2, -13.2, 2.9, -9.9, -5.7, 0.1, -11.3, -7.7
];
const upE = [
  6.7, 12.3, -0.2, 3.9, 16.5, 1.0, 9.2, -2.5, 13.5, 7.3, 1.9, 16.1, -4.2, 4.7, 10.0, -2.6, 13.0, 3.2, -0.7, 14.2, 5.6, 0.8, 11.7, -5.2, 8.0,
  10.3, -4.8, 6.7, 12.8, 4.7, -1.3, 15.2, 9.1, 2.9, 12.3, -4.2, 1.1, 7.6, 13.7, -1.8, 7.0, 10.1, -5.5, 6.0, 8.5, -3.6, 14.4, 3.6, 11.2, 0.0,
  4.8, 10.4, -2.1, 2.0, 14.6, -0.8, 7.4, -4.3, 11.7, 5.5, 0.2, 14.4, -5.9, 3.0, 8.3, -4.2, 11.4, 1.6, -2.3, 12.6, 3.6, -1.2, 9.7, -7.2, 6.0,
  7.9, -7.2, 4.3, 10.4, 2.3, -4.3, 12.2, 6.1, -0.1, 9.3, -7.7, -2.4, 4.1, 10.2, -5.3, 3.0, 6.1, -9.5, 2.0, 4.5, -7.9, 10.1, -0.7, 6.9, -4.3,
  0.2, 5.8, -6.7, -2.6, 10.0, -5.5, 2.7, -9.0, 7.0, 0.8, -4.6, 9.6, -10.7, -1.8, 3.5, -8.9, 6.7, -3.1, -7.0, 7.9, -1.0, -5.8, 5.1, -11.8, 1.4,
  3.3, -11.8, -0.3, 5.8, -2.3, -8.6, 7.9, 1.8, -4.4, 5.0, -11.8, -6.5, 0.0, 6.1, -9.4, -0.9, 2.2, -13.4, -1.9, 0.6, -11.6, 6.4, -4.4, 3.2, -8.0,
  -3.4, 2.2, -10.3, -6.2, 6.4, -9.0, -0.8, -12.5, 3.5, -2.7, -8.0, 6.2, -14.1, -5.2, 0.1, -12.4, 3.2, -6.6, -10.5, 4.4, -4.4, -9.2, 1.7, -15.2, -2.0,
  0.1, -15.0, -3.5, 2.6, -5.5, -11.7, 4.8, -1.3, -7.5, 1.9, -14.8, -9.5, -3.0, 3.1, -12.4, -3.8, -0.7, -16.3, -4.8, -2.3, -14.4, 3.6, -7.2, 0.4, -10.8
];
const upF = [
  1.7, 12.9, 5.3, 16.1, -1.9, 9.5, 7.0, -4.5, 11.1, 8.0, -1.3, 14.2, 8.1, 1.6, -3.7, 12.3, 2.9, 9.1, 15.2, -1.3, 4.7, 12.8, 6.7, -4.8, 10.3,
  8.0, -5.2, 11.7, 0.8, 5.6, 14.2, -0.7, 3.2, 13.0, -2.6, 9.5, 4.2, -4.7, 15.6, 1.4, 6.3, 12.5, -3.5, 8.2, 0.0, 14.8, 2.2, -1.9, 10.6, 5.0,
  -0.2, 11.0, 3.4, 14.2, -3.8, 7.7, 5.2, -6.3, 9.3, 6.2, -3.0, 12.5, 6.4, -0.1, -5.4, 10.7, 1.3, 7.5, 13.6, -2.9, 2.7, 10.8, 4.7, -6.8, 8.3,
  5.6, -7.6, 9.3, -1.6, 3.2, 11.2, -3.7, 0.2, 10.0, -5.6, 6.0, 0.7, -8.2, 12.1, -2.1, 2.3, 8.5, -7.5, 4.2, -4.0, 10.5, -2.1, -6.2, 6.3, 0.7,
  -4.8, 6.4, -1.2, 9.6, -8.4, 3.0, 0.5, -11.0, 4.6, 1.5, -7.8, 7.7, 1.6, -4.9, -10.2, 6.0, -3.4, 2.8, 8.9, -7.6, -1.9, 6.2, 0.1, -11.4, 3.7,
  1.0, -12.2, 4.7, -6.2, -1.4, 6.9, -8.0, -4.1, 5.7, -9.9, 1.9, -3.4, -12.3, 8.0, -6.2, -1.6, 4.6, -11.4, 0.3, -7.9, 6.8, -5.8, -9.9, 2.6, -3.0,
  -8.4, 2.8, -4.8, 6.0, -12.0, -0.5, -3.0, -14.5, 1.1, -2.0, -11.2, 4.3, -1.8, -8.3, -13.6, 2.5, -6.9, -0.7, 5.4, -11.1, -5.3, 2.8, -3.3, -14.8, 0.3,
  -2.2, -15.4, 1.5, -9.4, -4.6, 3.8, -11.1, -7.2, 2.6, -13.0, -1.1, -6.4, -15.3, 5.0, -9.2, -4.5, 1.7, -14.3, -2.6, -10.8, 4.0, -8.6, -12.7, -0.2, -5.8
];

const COLORS = { up: 'rgb(45,235,45)', east: 'rgb(24,24,228)', north: 'rgb(255,0,0)' };
const FONT = '"Liberation Sans", Arial, Helvetica, sans-serif';

function toPoints(values, start = 0) {
  return values.map((v, i) => ({ x: epochs[start + i], y: v }));
}
// A and B start at the first epoch, the later solutions at denseStart.
function series(full, ...later) {
  let pts = [];
  full.forEach(v => { pts = pts.concat(toPoints(v)); });
  later.forEach(v => { pts = pts.concat(toPoints(v, denseStart)); });
  return pts;
}

// Frame, inward tick marks, station name and the Sdev key.
const framePlugin = {
  id: 'frame',
  afterDraw(chart) {
    const { ctx, chartArea: a, scales } = chart;
    const xs = scales.x, ys = scales.y;
    ctx.save();
    ctx.strokeStyle = '#555';
    ctx.lineWidth = 1;
    ctx.beginPath();
    yearTicks.forEach((yr, i) => {
      const px = Math.round(xs.getPixelForValue(yr)) + 0.5;
      ctx.moveTo(px, a.bottom); ctx.lineTo(px, a.bottom - 5);
      ctx.moveTo(px, a.top); ctx.lineTo(px, a.top + 5);
      if (i < yearTicks.length - 1) {
        [0.25, 0.5, 0.75].forEach(q => {
          const mx = Math.round(xs.getPixelForValue(yr + q)) + 0.5;
          ctx.moveTo(mx, a.bottom); ctx.lineTo(mx, a.bottom - 3);
          ctx.moveTo(mx, a.top); ctx.lineTo(mx, a.top + 3);
        });
      }
    });
    yTickValues.forEach(v => {
      const py = Math.round(ys.getPixelForValue(v)) + 0.5;
      ctx.moveTo(a.left, py); ctx.lineTo(a.left + 5, py);
      ctx.moveTo(a.right, py); ctx.lineTo(a.right - 5, py);
    });
    ctx.stroke();
    ctx.lineWidth = 1.5;
    ctx.strokeRect(a.left, a.top, a.right - a.left, a.bottom - a.top);

    // station name
    ctx.fillStyle = '#111';
    ctx.font = 'bold 22px ' + FONT;
    ctx.textBaseline = 'alphabetic';
    ctx.textAlign = 'left';
    ctx.fillText(station, 85, 28);

    // key: marker, name, "=", standard deviation
    const styles = [
      { kind: 'x', color: COLORS.up },
      { kind: 'o', color: COLORS.east },
      { kind: 'dot', color: COLORS.north }
    ];
    ctx.font = '16px ' + FONT;
    seriesNames.forEach((name, i) => {
      const cy = 15 + i * 17;
      const mx = 628;
      const s = styles[i];
      ctx.lineWidth = 1;
      ctx.strokeStyle = s.color;
      ctx.fillStyle = s.color;
      ctx.beginPath();
      if (s.kind === 'x') {
        ctx.moveTo(mx - 3.5, cy - 3.5); ctx.lineTo(mx + 3.5, cy + 3.5);
        ctx.moveTo(mx + 3.5, cy - 3.5); ctx.lineTo(mx - 3.5, cy + 3.5);
        ctx.stroke();
      } else if (s.kind === 'o') {
        ctx.arc(mx, cy, 3.5, 0, Math.PI * 2);
        ctx.stroke();
      } else {
        ctx.arc(mx, cy, 2.5, 0, Math.PI * 2);
        ctx.fill();
      }
      ctx.fillStyle = '#111';
      ctx.textAlign = 'left';
      ctx.fillText(name, 645, cy + 6);
      ctx.textAlign = 'center';
      ctx.fillText('=', 734, cy + 6);
      ctx.textAlign = 'left';
      ctx.fillText(sdevMm[i].toFixed(1) + ' mm', 756, cy + 6);
    });
    ctx.restore();
  }
};

new Chart(document.getElementById('plot'), {
  type: 'scatter',
  data: {
    datasets: [
      {
        label: 'North',
        data: series([northA, northB], northC, northD, northE, northF),
        pointStyle: 'circle', pointRadius: 3.2, borderWidth: 0,
        backgroundColor: COLORS.north, borderColor: COLORS.north,
        clip: 8
      },
      {
        label: 'East',
        data: series([eastA, eastB], eastC, eastD, eastE, eastF),
        pointStyle: 'circle', pointRadius: 4.5, borderWidth: 1,
        backgroundColor: 'rgba(0,0,0,0)', borderColor: COLORS.east,
        clip: 8
      },
      {
        label: 'Up',
        data: series([upA, upB], upC, upD, upE, upF),
        pointStyle: 'crossRot', pointRadius: 5, borderWidth: 1.2,
        backgroundColor: COLORS.up, borderColor: COLORS.up,
        clip: 8
      }
    ]
  },
  options: {
    responsive: false,
    animation: false,
    events: [],
    devicePixelRatio: 1,
    layout: { padding: { top: 4, right: 5, left: 0, bottom: 0 } },
    plugins: { legend: { display: false }, tooltip: { enabled: false } },
    scales: {
      x: {
        type: 'linear', min: 1996, max: 2008,
        afterBuildTicks: s => { s.ticks = yearTicks.map(v => ({ value: v })); },
        afterFit: s => { s.height = 26; s.paddingLeft = 0; s.paddingRight = 0; },
        grid: { color: '#aaa', lineWidth: 1, drawTicks: false },
        border: { display: false, dash: [1, 2] },
        ticks: {
          autoSkip: false, maxRotation: 0, padding: 6, color: '#111',
          font: { family: FONT, size: 17 },
          callback: v => String(v)
        }
      },
      y: {
        type: 'linear', min: -50, max: 50,
        afterBuildTicks: s => { s.ticks = yTickValues.map(v => ({ value: v })); },
        afterFit: s => { s.width = 65; s.paddingTop = 0; s.paddingBottom = 0; },
        grid: { color: '#aaa', lineWidth: 1, drawTicks: false },
        border: { display: false, dash: [1, 2] },
        ticks: {
          padding: 10, color: '#111',
          font: { family: FONT, size: 15 },
          callback: v => String(v)
        },
        title: {
          display: true, text: axisTitle, color: '#111',
          font: { family: FONT, size: 16 },
          padding: { top: 9, bottom: 0 }
        }
      }
    }
  },
  plugins: [framePlugin]
});
</script>
</body>
</html>
